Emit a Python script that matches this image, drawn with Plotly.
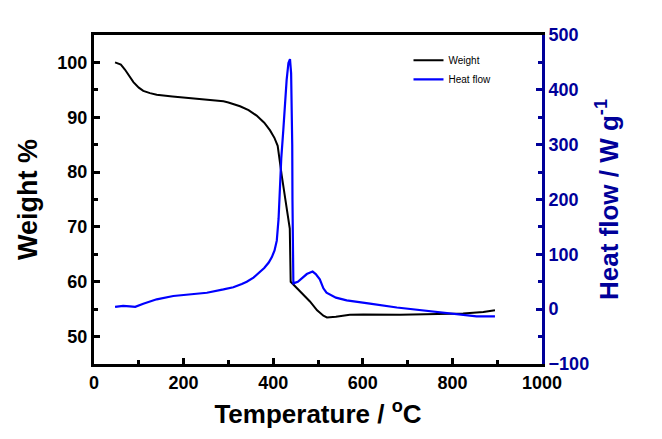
import plotly.graph_objects as go

# weight curve (left axis)
temp_w = [47, 60, 69, 80, 88, 100, 110, 125, 140, 175, 214, 250, 270, 289, 300, 315, 326,
          345, 363, 380, 393, 403, 410, 419, 430, 437, 439, 445, 452, 467, 482, 498, 512,
          520, 540, 571, 601, 683, 750, 824, 869, 895]
weight = [100, 99.6, 98.7, 97.5, 96.4, 95.4, 94.8, 94.4, 94.1, 93.8, 93.5, 93.3, 93.1, 92.9,
          92.7, 92.35, 92.0, 91.3, 90.3, 89.0, 87.6, 86.2, 84.8, 79.4, 73.9, 69.7, 60.0,
          59.5, 58.8, 57.7, 56.4, 54.8, 53.8, 53.5, 53.6, 54.0, 54.05, 54.0, 54.05, 54.2,
          54.5, 54.8]

# heat flow curve (right axis)
temp_h = [47, 65, 80, 92, 110, 140, 177, 214, 252, 289, 311, 330, 341, 356, 370, 380, 390,
          397, 403, 408, 412, 415, 418, 422.6, 426, 430, 434, 437.5, 440, 441.5, 442.5, 443,
          443.5, 444, 445, 455, 465, 475, 488, 495, 504, 512, 519, 527, 540, 564, 601, 616,
          676, 750, 810, 854, 895]
heat_flow = [4.2, 6, 5, 4.2, 10, 18, 24, 27, 30, 36, 40, 46, 50, 57.6, 68, 75, 85, 95,
             107, 125, 165, 220, 275, 327, 375, 418, 449, 456, 430, 380, 300, 200, 100, 55,
             47, 50, 57, 64, 68.5, 64, 54.5, 38, 30, 26, 21, 16, 11, 10, 3, -4, -10, -13, -13]

NAVY = "#000099"
FONT = "Liberation Sans, Arial, sans-serif"

fig = go.Figure()
fig.add_trace(go.Scatter(x=temp_w, y=weight, mode="lines", name="Weight",
                         line=dict(color="black", width=2)))
fig.add_trace(go.Scatter(x=temp_h, y=heat_flow, mode="lines", name="Heat flow",
                         line=dict(color="#0000ff", width=2.2), yaxis="y2"))

# page body keeps an 8px margin, so the figure is sized/offset to land the plot at the same pixels
fig.update_layout(
    width=654,
    height=431,
    paper_bgcolor="white",
    plot_bgcolor="white",
    margin=dict(l=86, r=120, t=27, b=75),
    font=dict(family=FONT, color="black"),
    xaxis=dict(
        range=[0, 1000], dtick=200, tick0=0,
        showgrid=False, zeroline=False,
        showline=True, linewidth=3, linecolor="black", mirror=True,
        ticks="inside", ticklen=6, tickwidth=3, tickcolor="black",
        minor=dict(dtick=100, ticks="inside", ticklen=4, tickwidth=3, tickcolor="black"),
        tickfont=dict(size=18, family=FONT, color="black", weight="bold"),
        title=dict(text="Temperature / <sup>o</sup>C", standoff=14,
                   font=dict(size=26, family=FONT, color="black", weight="bold")),
    ),
    yaxis=dict(
        range=[45, 105], dtick=10, tick0=0,
        showgrid=False, zeroline=False,
        showline=True, linewidth=3, linecolor="black",
        ticks="inside", ticklen=6, tickwidth=3, tickcolor="black",
        minor=dict(dtick=5, ticks="inside", ticklen=4, tickwidth=3, tickcolor="black"),
        tickfont=dict(size=18, family=FONT, color="black", weight="bold"),
        title=dict(text="Weight %", standoff=12,
                   font=dict(size=27, family=FONT, color="black", weight="bold")),
    ),
    yaxis2=dict(
        range=[-100, 500], dtick=100, tick0=0,
        overlaying="y", side="right",
        showgrid=False, zeroline=False,
        showline=True, linewidth=3, linecolor=NAVY,
        ticks="inside", ticklen=6, tickwidth=3, tickcolor=NAVY,
        minor=dict(dtick=50, ticks="inside", ticklen=4, tickwidth=3, tickcolor=NAVY),
        tickfont=dict(size=18, family=FONT, color=NAVY, weight="bold"),
        title=dict(text="Heat flow / W g<sup>-1</sup>", standoff=12,
                   font=dict(size=26, family=FONT, color=NAVY, weight="bold")),
    ),
    legend=dict(
        x=0.702, y=0.967, xanchor="left", yanchor="top",
        bgcolor="rgba(0,0,0,0)", borderwidth=0,
        font=dict(size=10, family=FONT, color="black"),
        tracegroupgap=0, itemwidth=30,
    ),
    showlegend=True,
)

fig.write_html("out.html")
